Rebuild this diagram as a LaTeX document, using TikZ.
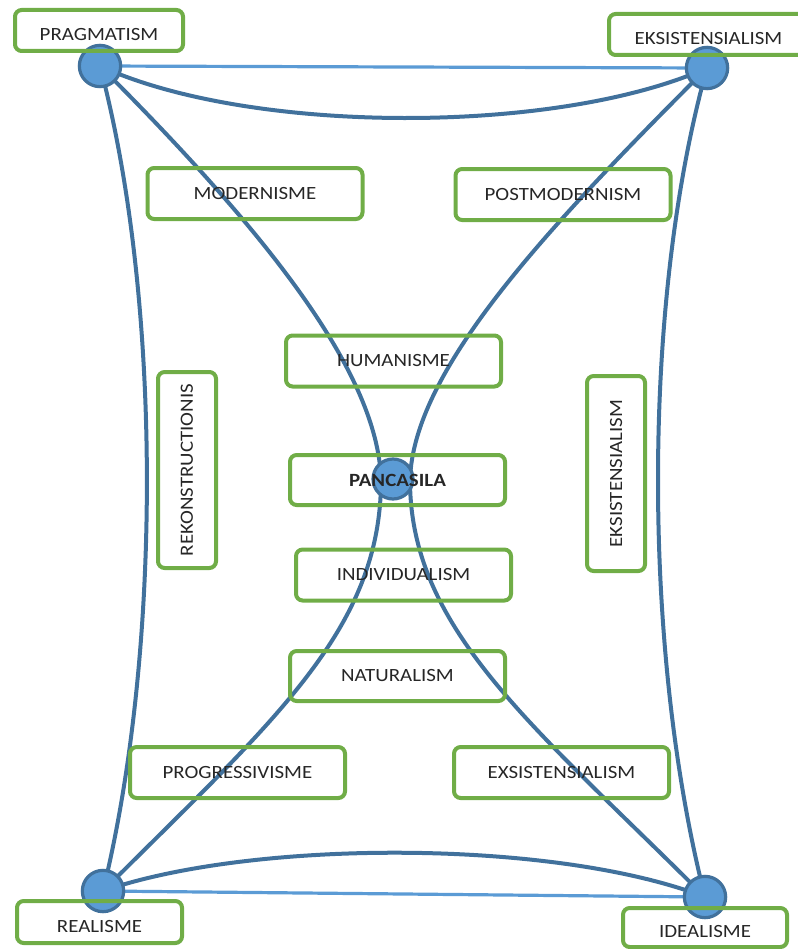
\documentclass[tikz,border=0pt]{standalone}
\usepackage{fontspec}
\setmainfont{Carlito}[FakeStretch=1.12]
\definecolor{boxgreen}{HTML}{70AD47}
\definecolor{linkblue}{HTML}{41719C}
\definecolor{lightblue}{HTML}{5B9BD5}
\begin{document}
\begin{tikzpicture}[x=0.75pt,y=-0.75pt,
  lbl/.style={draw=boxgreen,line width=3pt,rounded corners=5pt,rectangle,inner sep=0pt,
     font=\fontsize{14}{16}\selectfont,text=black!85},
  wide/.style={lbl,minimum width=161.25pt,minimum height=38.25pt},
  corner/.style={lbl,minimum height=30.75pt,text height=15.5pt,text depth=0pt},
  hub/.style={circle,draw=linkblue,fill=lightblue,line width=2.4pt,minimum size=31pt,inner sep=0pt},
  link/.style={draw=linkblue,line width=3pt},
  straight/.style={draw=lightblue,line width=2.4pt}]
\useasboundingbox (0,0) rectangle (798,949);
% hubs positions
\coordinate (cP) at (100,66);
\coordinate (cE) at (707,68);
\coordinate (cR) at (103,891);
\coordinate (cI) at (705,897);
\coordinate (mL) at (381,480);
\coordinate (mR) at (410,480);
% connectors
\path[straight] (cP) -- (cE);
\path[straight] (cR) -- (cI);
\path[link] (cP) .. controls (250,135) and (557,135) .. (cE);
\path[link] (cR) .. controls (253,839) and (555,839) .. (cI);
\path[link] (cP) .. controls (162,300) and (162,650) .. (cR);
\path[link] (cE) .. controls (642,300) and (642,650) .. (cI);
\path[link] (cP) .. controls (260,226) and (378,370) .. (mL) .. controls (381,630) and (273,721) .. (cR);
\path[link] (cE) .. controls (547,228) and (413,370) .. (mR) .. controls (410,630) and (535,727) .. (cI);
% circles
\node[hub] (hP) at (cP) {};
\node[hub] (hE) at (cE) {};
\node[hub] (hR) at (cR) {};
\node[hub] (hI) at (cI) {};
\node[hub,minimum size=30pt] (hC) at (393,479) {};
% boxes
\node[corner,minimum width=126pt] (prag) at (99,30.5) {PRAGMATISM};
\node[corner,minimum width=149.25pt] (eksT) at (708.5,34.5) {EKSISTENSIALISM};
\node[wide] (mod) at (255,193.5) {MODERNISME};
\node[wide] (post) at (563,194.5) {POSTMODERNISM};
\node[wide] (hum) at (393.5,361) {HUMANISME};
\node[wide,minimum height=37.5pt,font=\fontsize{14}{16}\selectfont\bfseries] (pan) at (397.5,480) {PANCASILA};
\node[wide] (ind) at (403.5,575) {INDIVIDUALISM};
\node[wide,minimum height=37.5pt] (nat) at (397.5,676) {NATURALISM};
\node[wide] (prog) at (237.5,772.5) {PROGRESSIVISME};
\node[wide] (exs) at (561.5,772.5) {EXSISTENSIALISM};
\node[lbl,rotate=90,minimum width=147pt,minimum height=43.5pt] (rek) at (187,470) {REKONSTRUCTIONIS};
\node[lbl,rotate=90,minimum width=146.25pt,minimum height=43.5pt] (eksR) at (616,473.5) {EKSISTENSIALISM};
\node[corner,minimum width=123.75pt,minimum height=31.5pt] (real) at (99.5,922) {REALISME};
\node[corner,minimum width=123pt,minimum height=29.25pt] (ideal) at (705,927.5) {IDEALISME};
\end{tikzpicture}
\end{document}
